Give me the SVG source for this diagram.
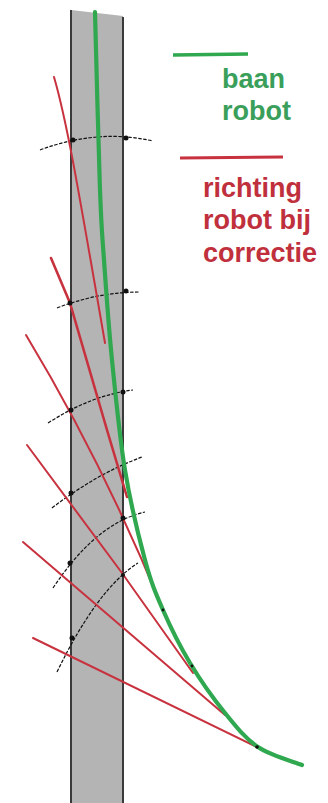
<svg xmlns="http://www.w3.org/2000/svg" width="328" height="803" viewBox="0 0 328 803">
<style>
.strip{fill:#b4b4b4}
.edge{stroke:#3a3a3a;stroke-width:2;fill:none}
.arc{stroke:#111;stroke-width:1.2;fill:none;stroke-dasharray:3.5 1.5}
.red{stroke:#c8323f;stroke-width:2;fill:none;stroke-linejoin:round;stroke-linecap:round}
.grn{stroke:#2fa84f;fill:none;stroke-linejoin:round;stroke-linecap:round}
.dot{fill:#111}
.tg{font-family:"Liberation Sans",Arial,sans-serif;font-weight:bold;font-size:27px;fill:#3a9f5a}
.tr{font-family:"Liberation Sans",Arial,sans-serif;font-weight:bold;font-size:27px;fill:#c0303c}
</style>
<g id="strip">
<polygon class="strip" points="71,10 123,16 123,803 71,803"/>
<line class="edge" x1="71" y1="10" x2="71" y2="803"/>
<line class="edge" x1="123" y1="17" x2="123" y2="803"/>
</g>
<g id="arcs">
<path class="arc" d="M40,150 Q97.5,128.5 153,141"/>
<path class="arc" d="M57,308 Q98.5,292 140,292"/>
<path class="arc" d="M48,423 Q90.5,395.5 133,390"/>
<path class="arc" d="M52,508 Q97,473.5 142,457"/>
<path class="arc" d="M53,588 Q96,523 145,512"/>
<path class="arc" d="M57,672 Q97.5,588.5 138,563"/>
</g>
<g id="red-lines">
<path class="red" d="M54,77 C66,118 76,175 105,343"/>
<path class="red" style="stroke-width:2.6" d="M51,258 L70,303 L107,430 L127,497"/>
<path class="red" d="M26,335 C55,383 110,480 163,610"/>
<path class="red" d="M27,445 L122,573 L193,673"/>
<path class="red" d="M23,542 L225,715"/>
<path class="red" d="M33,638 L257,747"/>
</g>
<g id="green-path">
<path class="grn" style="stroke-width:4.2" d="M95,12 C95.8,41.7 98.5,148.7 100,190 C101.5,231.3 102,231.7 104,260 C106,288.3 108.5,325 112,360 C115.5,395 119.5,436.7 125,470 C130.5,503.3 138.7,536.7 145,560 C151.3,583.3 155.5,592.8 163,610 C170.5,627.2 179.7,645.8 190,663 C200.3,680.2 213.7,699 225,713 C236.3,727 245.2,738.3 258,747 C270.8,755.7 294.7,762 302,765"/>
</g>
<g id="dots">
<circle class="dot" cx="73" cy="140" r="2.5"/>
<circle class="dot" cx="126" cy="138" r="2.5"/>
<circle class="dot" cx="70" cy="303" r="2.5"/>
<circle class="dot" cx="126" cy="291" r="2.5"/>
<circle class="dot" cx="71" cy="410" r="2.5"/>
<circle class="dot" cx="123" cy="392" r="2.5"/>
<circle class="dot" cx="71" cy="493" r="2.5"/>
<circle class="dot" cx="70" cy="563" r="2.5"/>
<circle class="dot" cx="123" cy="518" r="2.5"/>
<circle class="dot" cx="72" cy="638" r="2.5"/>
<circle class="dot" cx="123" cy="575" r="2"/>
<circle class="dot" cx="163" cy="610" r="1.4"/>
<circle class="dot" cx="192" cy="666" r="1.4"/>
<circle class="dot" cx="257" cy="747" r="1.8"/>
</g>
<g id="legend">
<line x1="173" y1="55" x2="248" y2="54" stroke="#2fa84f" stroke-width="3.5"/>
<text class="tg" x="222" y="88">baan</text>
<text class="tg" x="222" y="120">robot</text>
<line x1="180" y1="158" x2="283" y2="157" stroke="#c8323f" stroke-width="3"/>
<text class="tr" x="203" y="197">richting</text>
<text class="tr" x="203" y="229">robot bij</text>
<text class="tr" x="203" y="262">correctie</text>
</g>
</svg>
